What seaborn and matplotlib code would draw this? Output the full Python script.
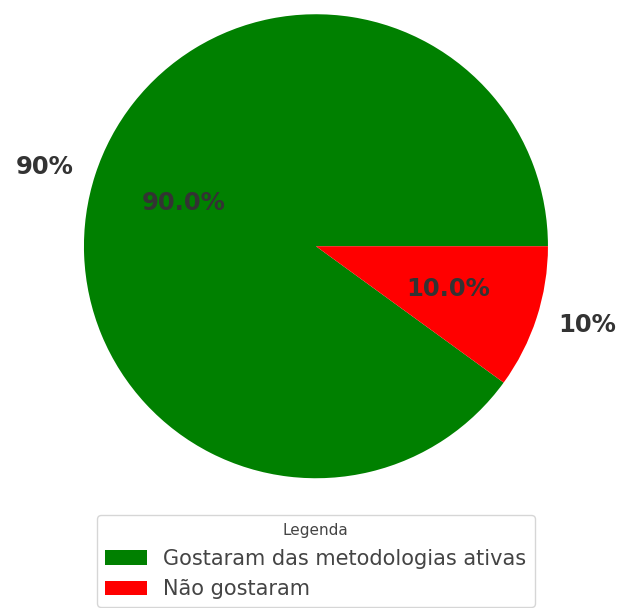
import matplotlib
matplotlib.use("Agg")
import matplotlib.pyplot as plt
import seaborn as sns

labels = ["Gostaram das metodologias ativas", "Não gostaram"]
values = [90, 10]
outer_labels = ["90%", "10%"]
colors = ["green", "red"]

sns.set_theme(style="white")
plt.rcParams["font.family"] = ["DejaVu Sans"]

fig = plt.figure(figsize=(6.18, 6.08), dpi=100)
ax = fig.add_axes([0.042, 0.118, 0.9385, 0.954])

wedges, texts, autotexts = ax.pie(
    values,
    labels=outer_labels,
    colors=colors,
    autopct="%1.1f%%",
    startangle=0,
    wedgeprops={"linewidth": 0},
    textprops={"fontsize": 17.5, "fontweight": "bold", "color": "#333333"},
)
ax.set_aspect("equal")

leg = fig.legend(
    wedges, labels,
    title="Legenda",
    loc="upper center",
    bbox_to_anchor=(0.511, 0.153),
    borderaxespad=0,
    fontsize=15,
    title_fontsize=11,
    frameon=True,
)
for t in leg.get_texts():
    t.set_color("#444444")
leg.get_title().set_color("#444444")

fig.savefig("out.png", dpi=100)
